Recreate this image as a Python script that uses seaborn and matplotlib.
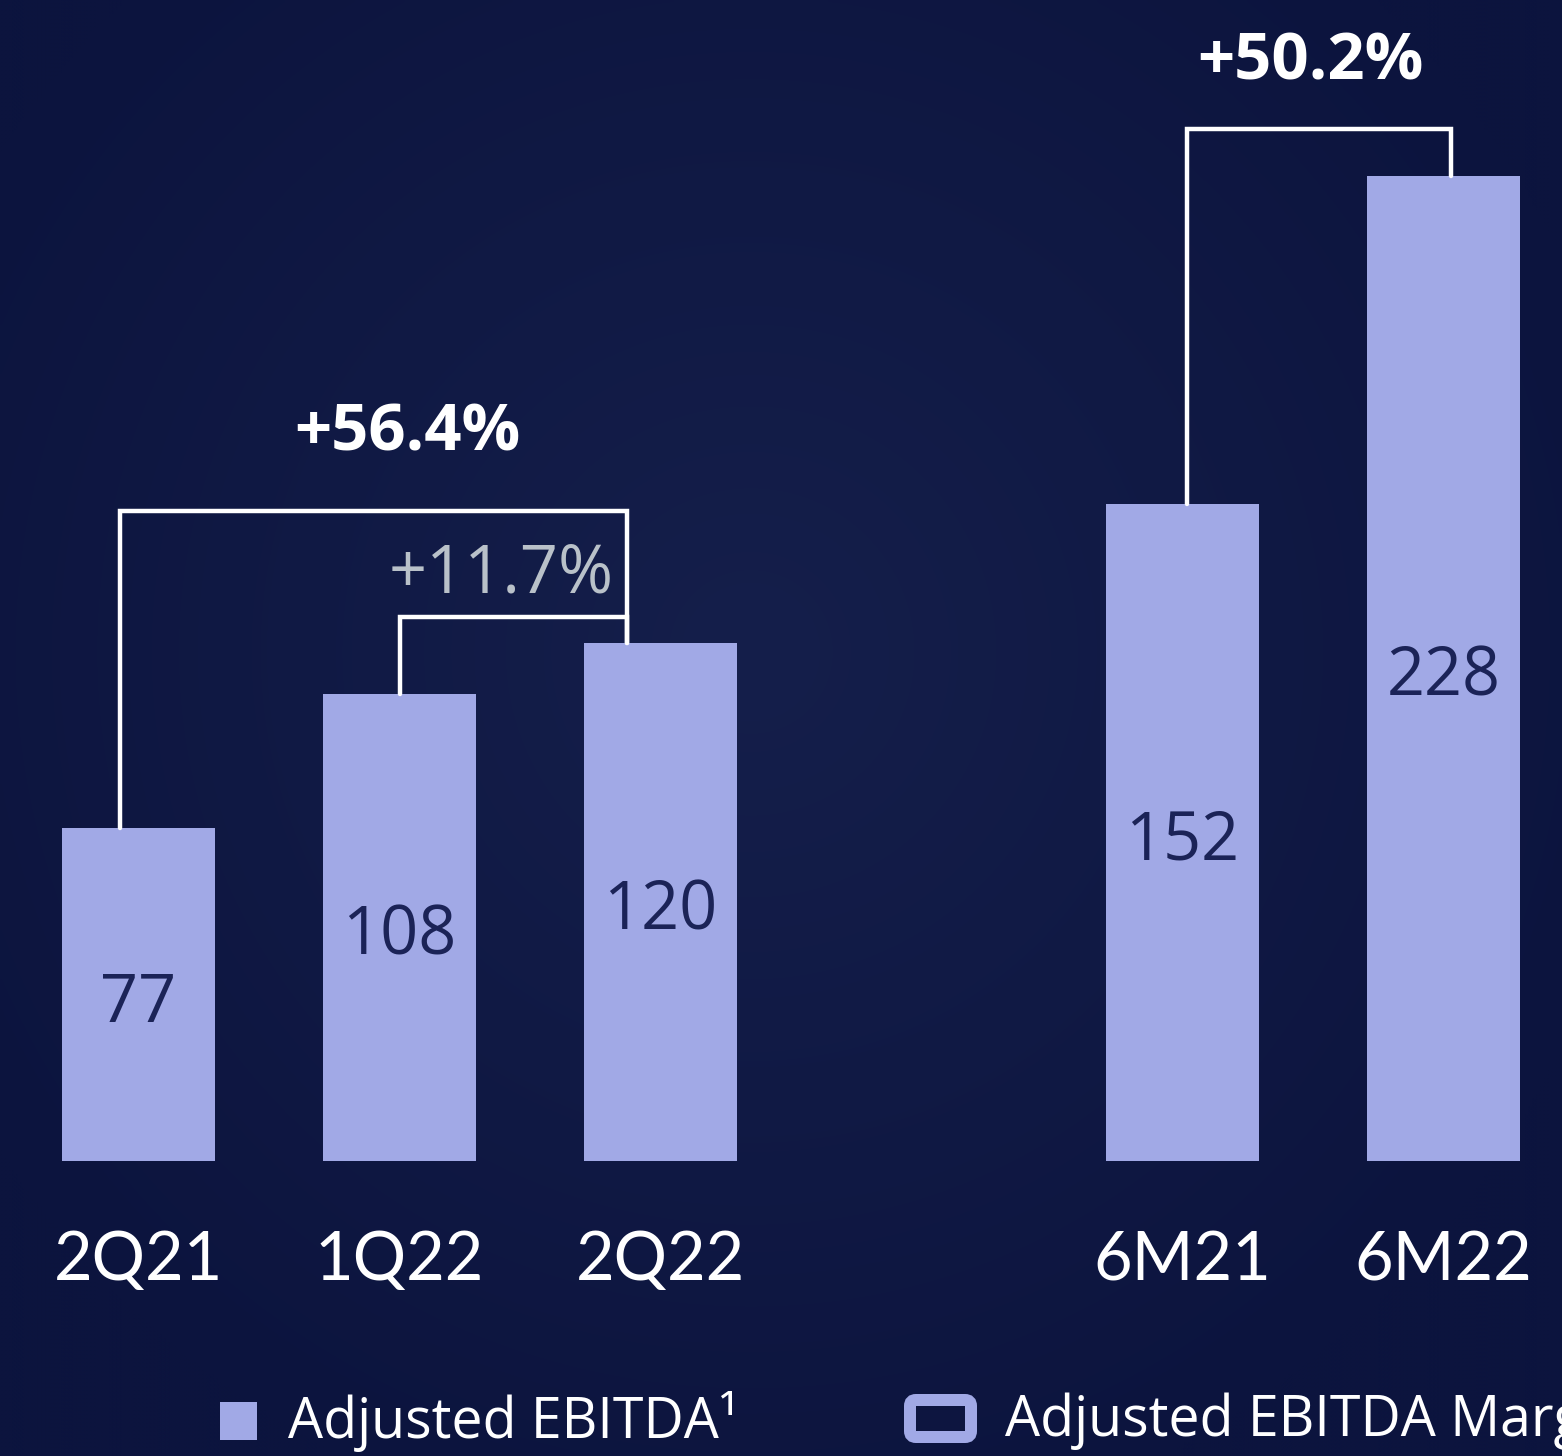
import matplotlib
matplotlib.use("Agg")
import matplotlib.pyplot as plt
import seaborn as sns
import pandas as pd
import numpy as np
from matplotlib.patches import FancyBboxPatch, Rectangle
from matplotlib.transforms import IdentityTransform

# ---- data ----
categories = ["2Q21", "1Q22", "2Q22", "6M21", "6M22"]
positions = [0, 1, 2, 4, 5]
values = [77, 108, 120, 152, 228]
growth_labels = ["+56.4%", "+11.7%", "+50.2%"]
legend_labels = ["Adjusted EBITDA\u00b9", "Adjusted EBITDA Margin"]

BG = "#10194a"
BAR = "#a1a9e6"
VAL = "#1b2357"

sns.set_theme(style="white")
plt.rcParams["font.family"] = ["Open Sans", "DejaVu Sans"]

W, H = 1562, 1456
fig = plt.figure(figsize=(W / 100, H / 100), dpi=100)
fig.patch.set_facecolor(BG)

# subtle background gradient
bg_ax = fig.add_axes([0, 0, 1, 1], zorder=-10)
yy, xx = np.mgrid[0:H:4, 0:W:4]
r = np.sqrt(((xx - 750) / 900.0) ** 2 + ((yy - 650) / 900.0) ** 2)
t = np.clip(r, 0, 1)[..., None]
c_in = np.array([0x15, 0x1f, 0x4b]) / 255.0
c_out = np.array([0x0c, 0x14, 0x3e]) / 255.0
img = c_in * (1 - t) + c_out * t
bg_ax.imshow(img, extent=[0, 1, 0, 1], aspect="auto", interpolation="bilinear")
bg_ax.axis("off")

ax = fig.add_axes([0, 0, 1, 1])
ax.patch.set_alpha(0)

df = pd.DataFrame({"pos": positions, "val": values, "cat": categories})
sns.barplot(data=df, x="pos", y="val", native_scale=True, width=0.586,
            color=BAR, saturation=1, ax=ax, linewidth=0)

px_per_unit = 4.32
ax.set_xlim(-138.5 / 261, (W - 138.5) / 261)
ax.set_ylim(-(H - 1161) / px_per_unit, 1161 / px_per_unit)
ax.axis("off")

# value labels inside bars
for p, v in zip(positions, values):
    ax.text(p, v / 2 - 2.2, f"{v}", ha="center", va="center", fontsize=48,
            color=VAL, fontfamily="Open Sans")

# category labels
for p, c in zip(positions, categories):
    ax.text(p, -23.2, c, ha="center", va="center", fontsize=48,
            color="white", fontfamily="Lato", fontweight="normal")

lw = 3.2
# +56.4% bracket (2Q21 -> 2Q22)
ax.plot([0 - 0.071, 0 - 0.071, 2 - 0.128, 2 - 0.128],
        [values[0], 150.5, 150.5, values[2]], color="white", lw=lw,
        solid_joinstyle="miter")
# +11.7% bracket (1Q22 -> 2Q22)
ax.plot([1.0, 1.0, 2 - 0.128, 2 - 0.128],
        [values[1], 125.9, 125.9, values[2]], color="white", lw=lw,
        solid_joinstyle="miter")
# +50.2% bracket (6M21 -> 6M22)
ax.plot([4 + 0.017, 4 + 0.017, 5 + 0.029, 5 + 0.029],
        [values[3], 238.9, 238.9, values[4]], color="white", lw=lw,
        solid_joinstyle="miter")

ax.text(1.03, 168.2, growth_labels[0], ha="center", va="center",
        fontsize=47, fontweight="bold", color="white")
ax.text(1.39, 135.8, growth_labels[1], ha="center", va="center",
        fontsize=48, color="#b9c1c9")
ax.text(4.49, 254.2, growth_labels[2], ha="center", va="center",
        fontsize=47, fontweight="bold", color="white")

# legend (pixel coordinates, origin bottom-left)
fig.patches.append(Rectangle((220, H - 1440), 37, 38, transform=IdentityTransform(),
                             facecolor=BAR, edgecolor="none"))
fig.patches.append(FancyBboxPatch((910, H - 1437), 61, 37,
                                  boxstyle="round,pad=0,rounding_size=6",
                                  transform=IdentityTransform(), facecolor="#0d1540",
                                  edgecolor=BAR, linewidth=12 * 0.72))
fig.text(288 / W, 1 - 1421 / H, legend_labels[0], ha="left", va="center",
         fontsize=40, color="white")
fig.text(1005 / W, 1 - 1421 / H, legend_labels[1], ha="left", va="center",
         fontsize=40, color="white")

fig.savefig("out.png", dpi=100, facecolor=BG)
